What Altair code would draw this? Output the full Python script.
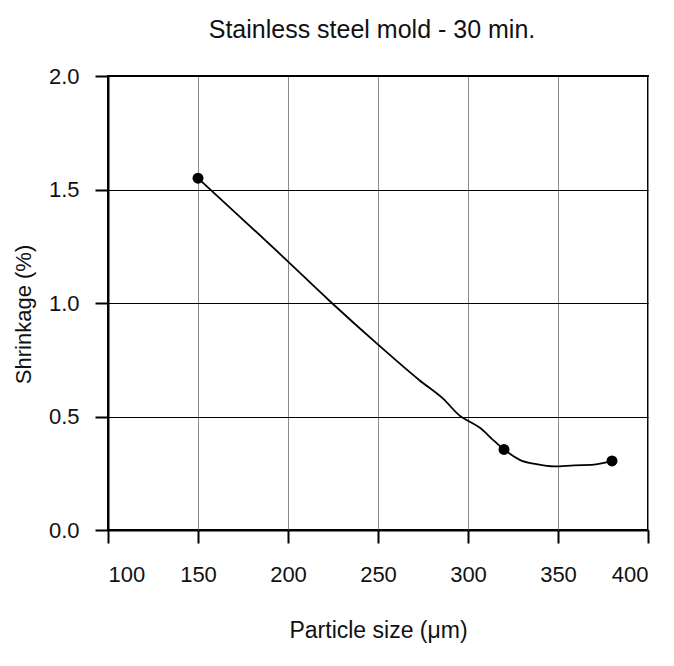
import altair as alt
import pandas as pd

# Shrinkage curve traced along particle size (µm -> %)
curve_size = [150, 199, 223, 251, 273, 286, 296, 301, 307, 314, 320, 329, 338, 348, 359, 370, 380]
curve_shrink = [1.55, 1.19, 1.01, 0.81, 0.66, 0.58, 0.50, 0.477, 0.448, 0.396, 0.355, 0.308, 0.29, 0.28, 0.285, 0.288, 0.304]

# Measured samples
sample_size = [150, 320, 380]
sample_shrink = [1.55, 0.355, 0.304]

x_ticks = [100, 150, 200, 250, 300, 350, 400]
y_ticks = [0.0, 0.5, 1.0, 1.5, 2.0]

curve = pd.DataFrame({"size": curve_size, "shrink": curve_shrink})
samples = pd.DataFrame({"size": sample_size, "shrink": sample_shrink})

FONT = "Liberation Sans"

x_enc = alt.X(
    "size:Q",
    scale=alt.Scale(domain=[100, 400], nice=False, zero=False),
    axis=alt.Axis(
        values=x_ticks,
        format="d",
        title="Particle size (μm)",
        titleY=100,
        titleBaseline="middle",
        titleFontSize=23,
        titleFontWeight="normal",
        labelPadding=21,
        gridColor="#8a8a8a",
    ),
)
y_enc = alt.Y(
    "shrink:Q",
    scale=alt.Scale(domain=[0, 2], nice=False),
    axis=alt.Axis(
        values=y_ticks,
        format=".1f",
        title="Shrinkage (%)",
        titleAngle=270,
        titleX=-85,
        titleY=238,
        titleAlign="center",
        titleBaseline="middle",
        titleFontSize=22,
        titleFontWeight="normal",
        labelPadding=16,
        gridColor="#000000",
    ),
)

line = alt.Chart(curve).mark_line(
    color="black", strokeWidth=1.8, interpolate="monotone"
).encode(x=x_enc, y=y_enc, order="size:Q")
points = alt.Chart(samples).mark_point(
    filled=True, color="black", size=120, opacity=1
).encode(x="size:Q", y="shrink:Q")

chart = (
    alt.layer(line, points)
    .properties(
        width=540,
        height=454,
        title=alt.TitleParams(
            "Stainless steel mold - 30 min.",
            fontSize=25,
            font=FONT,
            fontWeight="normal",
            color="#111111",
            anchor="middle",
            frame="group",
            offset=22,
            dx=-6,
        ),
        autosize=alt.AutoSizeParams(type="none"),
        padding={"left": 108, "top": 76, "right": 26, "bottom": 136},
    )
    .configure(background="white")
    .configure_view(stroke="black", strokeWidth=2)
    .configure_axis(
        labelFont=FONT,
        titleFont=FONT,
        labelFontSize=22,
        labelColor="#111111",
        titleColor="#111111",
        domainColor="black",
        domainWidth=2,
        tickColor="black",
        tickWidth=2,
        tickSize=13,
        gridWidth=1,
        gridOpacity=1,
    )
)

chart.save("out.html", embed_options={"renderer": "svg", "actions": False})
